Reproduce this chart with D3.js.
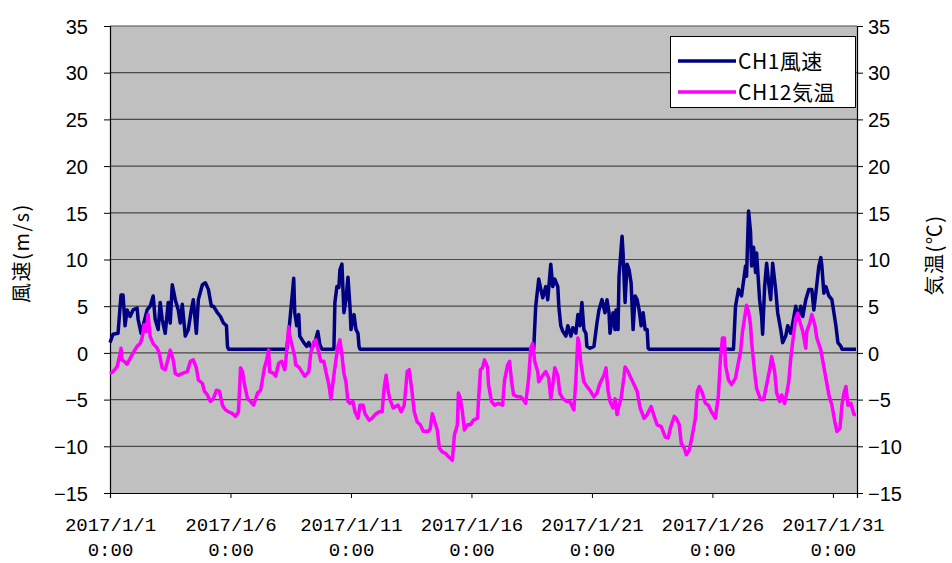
<!DOCTYPE html>
<html><head><meta charset="utf-8">
<script src="https://cdn.jsdelivr.net/npm/d3@7"></script>
<style>body{margin:0;background:#fff;} svg{display:block;}</style>
</head><body>
<svg id="chart" width="952" height="563"></svg>
<script>
// ---- data (hours from 2017/1/1 0:00, value) ----
const seriesNames = ["CH1風速", "CH12気温"];
const yTicks = [-15,-10,-5,0,5,10,15,20,25,30,35];
const xTickDays = [1,6,11,16,21,26,31];
const windData = [[0,1.1],[3,2.0],[8,2.1],[11,6.2],[13,6.2],[15,2.9],[17,4.6],[20,3.9],[23,4.6],[27,4.8],[28,3.6],[31,2.1],[33,2.9],[37,4.6],[40,5.0],[43,6.1],[45,3.6],[48,2.5],[50,5.4],[52,3.6],[55,2.1],[58,5.4],[60,3.2],[62,7.3],[65,5.7],[68,4.6],[70,3.2],[72,5.2],[75,1.8],[78,2.5],[81,4.6],[83,5.7],[86,2.1],[88,5.7],[92,7.3],[95,7.5],[98,6.8],[101,5.0],[103,5.0],[107,4.3],[110,3.9],[113,3.2],[116,2.9],[117,0.7],[118,0.4],
[176,0.4],[178,2.1],[183,8.0],[184,4.3],[186,2.9],[188,4.1],[189,1.8],[193,1.1],[196,0.7],[198,1.1],[201,0.5],[204,1.1],[207,2.3],[209,0.9],[211,0.4],[223,0.4],[224,5.4],[226,7.1],[228,7.0],[229,8.9],[231,9.5],[233,4.3],[235,5.7],[237,8.1],[239,5.0],[240,2.5],[243,4.1],[245,2.5],[247,2.1],[248,0.7],[249,0.4],
[422,0.4],[424,5.0],[427,7.9],[431,5.9],[434,7.1],[436,5.7],[439,9.5],[441,7.1],[443,7.9],[446,7.1],[447,5.0],[449,2.9],[451,2.3],[454,1.8],[456,2.9],[459,1.8],[461,2.7],[464,2.1],[466,4.1],[468,2.9],[470,5.4],[472,2.5],[474,2.1],[475,0.7],[478,0.5],[482,0.7],[485,3.2],[487,4.6],[490,5.7],[493,4.3],[495,5.7],[497,4.3],[498,2.1],[501,4.3],[503,2.5],[504,4.6],[506,2.5],[507,8.2],[510,12.5],[511,10.7],[513,5.4],[515,9.5],[517,8.9],[519,7.5],[521,2.5],[523,6.1],[525,5.7],[527,4.6],[529,2.9],[531,4.3],[533,2.5],[535,2.5],[536,0.5],[537,0.4],
[621,0.4],[623,5.0],[626,6.8],[629,6.1],[633,9.3],[634,8.2],[636,15.2],[638,12.9],[639,9.3],[641,11.3],[643,8.6],[644,10.7],[647,5.7],[649,3.9],[650,2.0],[652,7.1],[654,9.6],[656,7.5],[658,5.7],[660,9.6],[663,6.8],[665,4.3],[668,2.5],[670,1.1],[673,1.8],[675,2.9],[678,2.1],[680,3.2],[683,5.0],[685,3.6],[688,5.0],[690,3.9],[693,5.7],[696,6.8],[699,6.8],[701,4.6],[703,6.4],[706,9.3],[708,10.2],[709,9.3],[711,6.4],[713,7.1],[716,6.1],[719,5.7],[721,4.3],[723,2.9],[725,1.1],[728,0.7],[729,0.4],[743,0.4]];
const tempData = [[0,-2.2],[3,-2.0],[7,-1.5],[9,-0.6],[11,0.5],[12,-0.75],[14,-0.9],[17,-1.2],[20,-0.6],[23,0],[27,0.7],[30,1.0],[32,1.6],[34,3.0],[36,2.3],[38,4.1],[40,1.75],[43,1.0],[47,0.5],[49,0],[52,-1.6],[55,-1.8],[58,-0.6],[60,0.3],[63,-0.75],[65,-2.2],[68,-2.4],[72,-2.2],[77,-2.0],[80,-0.9],[83,-0.75],[86,-1.6],[88,-2.9],[92,-3.25],[94,-4.1],[97,-4.5],[100,-5.2],[103,-4.9],[106,-4.0],[109,-4.1],[112,-5.6],[115,-6.1],[118,-6.3],[122,-6.5],[125,-6.8],[128,-6.3],[130,-1.6],[132,-2.0],[134,-3.4],[137,-4.9],[140,-5.2],[143,-5.6],
[147,-4.3],[150,-4.0],[154,-1.5],[156,-0.75],[158,0.3],[159,-2.0],[163,-2.2],[165,-2.5],[168,-1.1],[171,-0.9],[174,-1.8],[175,-0.9],[178,2.8],[179,1.9],[182,0.5],[184,-0.4],[185,-1.3],[188,-1.5],[191,-2.0],[194,-2.5],[198,-2.0],[200,0],[203,1.2],[205,1.4],[208,0],[210,-0.9],[213,-0.9],[215,-2.0],[218,-3.4],[220,-4.9],[223,-2.4],[225,-0.75],[227,0.7],[229,1.4],[231,-0.2],[233,-2.2],[235,-3.1],[237,-5.2],[239,-5.4],[242,-5.2],[244,-6.3],[247,-7.0],[249,-5.6],[252,-5.6],[254,-6.5],[258,-7.2],[261,-7.0],[264,-6.6],[268,-6.3],[271,-6.3],[273,-3.8],[275,-2.4],[277,-4.1],[279,-5.0],[282,-5.9],[284,-5.75],[287,-5.6],[290,-6.3],[293,-5.6],[294,-4.5],[296,-2.0],[298,-1.8],[301,-4.3],[303,-6.3],[306,-7.4],[309,-7.7],[312,-8.4],[317,-8.4],[319,-8.1],[321,-6.5],[323,-7.2],[326,-8.25],[328,-10.2],[331,-10.6],[334,-10.75],[337,-11.1],[341,-11.5],[343,-8.8],[346,-7.7],[347,-4.3],[349,-4.9],[351,-6.3],[353,-8.25],[356,-7.7],[359,-7.7],[362,-7.2],[366,-7.0],[367,-5.2],[369,-1.8],[371,-1.6],[373,-0.75],[376,-1.5],[377,-3.4],[380,-5.2],[383,-5.6],[387,-5.4],[391,-5.6],[393,-2.9],[396,-1.3],[398,-0.9],[400,-3.1],[402,-4.5],[406,-4.7],[409,-4.7],[411,-4.9],[414,-5.4],[417,-2.7],[419,0.5],[421,1.0],[423,-0.9],[426,-2.0],[427,-3.1],[431,-2.4],[434,-2.0],[437,-2.7],[439,-4.9],[441,-3.4],[443,-1.6],[446,-2.4],[448,-4.3],[451,-4.9],[455,-5.2],[458,-5.2],[462,-6.1],[464,-2.9],[466,1.6],[467,1.2],[469,-1.1],[472,-3.1],[475,-3.6],[478,-4.0],[482,-4.7],[485,-4.3],[488,-3.25],[492,-2.4],[494,-1.6],[496,-4.0],[498,-5.2],[501,-5.9],[503,-4.9],[505,-6.6],[507,-5.6],[509,-4.9],[512,-2.5],[513,-1.5],[516,-2.0],[518,-2.5],[522,-3.4],[525,-4.1],[528,-5.9],[532,-7.0],[535,-6.6],[539,-5.75],[542,-6.8],[545,-7.7],[549,-7.9],[553,-9.0],[556,-9.1],[558,-8.1],[562,-6.8],[564,-7.0],[567,-7.7],[569,-9.7],[572,-10.2],[574,-10.9],[577,-10.4],[580,-8.8],[583,-7.0],[585,-4.1],[587,-3.6],[590,-4.3],[593,-5.4],[596,-5.6],[599,-6.3],[603,-7.0],[606,-4.5],[608,-0.6],[610,1.6],[612,1.6],[613,-1.3],[616,-2.9],[619,-3.4],[623,-2.7],[625,-1.5],[628,0.1],[630,2.3],[632,3.7],[634,5.1],[636,4.4],[638,3.0],[639,1.2],[642,-2.0],[644,-3.8],[648,-5.0],[651,-5.0],[654,-3.4],[657,-1.8],[659,-0.4],[662,-2.0],[664,-4.3],[667,-5.2],[669,-4.5],[672,-5.4],[674,-4.3],[676,-3.1],[678,-0.6],[680,1.2],[683,3.7],[685,4.25],[688,3.0],[690,2.3],[693,0.5],[694,2.3],[697,3.2],[699,4.1],[702,3.0],[704,1.6],[708,0.3],[710,-0.9],[713,-2.7],[716,-4.5],[719,-5.6],[722,-7.4],[724,-8.4],[727,-8.1],[729,-5.6],[731,-4.3],[733,-3.6],[735,-5.6],[738,-5.4],[741,-6.6],[743,-6.6]];

// ---- layout ----
const L = 110, R = 857, T = 26, B = 493;
const svg = d3.select("#chart");
const start = Date.UTC(2017,0,1);
const toDate = h => new Date(start + h*3600e3);
const x = d3.scaleUtc().domain([new Date(start), new Date(Date.UTC(2017,1,1))]).range([L, R]);
const y = d3.scaleLinear().domain([-15, 35]).range([B, T]);
const numFont = "'Liberation Sans', Arial, 'Noto Sans CJK JP', sans-serif";
const jpFont = "'Noto Sans CJK JP', 'Liberation Sans', sans-serif";

svg.append("rect").attr("x", L).attr("y", T).attr("width", R-L).attr("height", B-T).attr("fill", "#c0c0c0");

// gridlines
svg.append("g").selectAll("line").data(yTicks.filter(v => v > -15)).join("line")
  .attr("x1", L).attr("x2", R).attr("y1", d => y(d)).attr("y2", d => y(d))
  .attr("stroke", "#4a4a4a").attr("stroke-width", 1.2);

const fmt = v => (v < 0 ? "\u2212" + Math.abs(v) : String(v));
// left axis
const gl = svg.append("g").attr("transform", `translate(${L},0)`)
  .call(d3.axisLeft(y).tickValues(yTicks).tickFormat(fmt).tickSize(6).tickPadding(16));
// right axis
const gr = svg.append("g").attr("transform", `translate(${R},0)`)
  .call(d3.axisRight(y).tickValues(yTicks).tickFormat(fmt).tickSize(6).tickPadding(5));
[gl, gr].forEach(g => {
  g.selectAll("text").attr("font-family", numFont).attr("font-size", 20).attr("fill", "#000").attr("dy", "0.36em");
  g.selectAll("line").attr("stroke", "#000");
  g.select(".domain").attr("stroke", "#000").attr("stroke-width", 1.2);
});

// bottom axis
const xTickDates = xTickDays.map(d => new Date(Date.UTC(2017,0,d)));
const gb = svg.append("g").attr("transform", `translate(0,${B})`)
  .call(d3.axisBottom(x).tickValues(xTickDates).tickSize(5).tickFormat(""));
gb.selectAll("line").attr("stroke", "#000");
gb.select(".domain").attr("stroke", "#000").attr("stroke-width", 1.2);
gb.selectAll(".tick").each(function(d) {
  const t = d3.select(this).append("text").attr("fill", "#000").attr("text-anchor", "middle")
    .attr("font-family", "'Liberation Mono', 'DejaVu Sans Mono', monospace").attr("font-size", 19);
  t.append("tspan").attr("x", 0).attr("y", 38).text(`${d.getUTCFullYear()}/${d.getUTCMonth()+1}/${d.getUTCDate()}`);
  t.append("tspan").attr("x", 0).attr("y", 63).text("0:00");
});

// lines
const line = d3.line().x(d => x(toDate(d[0]))).y(d => y(d[1]));
svg.append("path").datum(windData).attr("d", line).attr("fill", "none")
  .attr("stroke", "#000080").attr("stroke-width", 3.5).attr("stroke-linejoin", "round");
svg.append("path").datum(tempData).attr("d", line).attr("fill", "none")
  .attr("stroke", "#ff00ff").attr("stroke-width", 3.5).attr("stroke-linejoin", "round");

// axis titles
svg.append("text").attr("transform", "translate(29,253) rotate(-90)").attr("text-anchor", "middle")
  .attr("font-family", jpFont).attr("font-size", 20).attr("letter-spacing", 1.5).text("風速(m/s)");
svg.append("text").attr("transform", "translate(942,255) rotate(-90)").attr("text-anchor", "middle")
  .attr("font-family", jpFont).attr("font-size", 20).attr("letter-spacing", 1.5).text("気温(℃)");

// legend
const colors = ["#000080", "#ff00ff"];
const lg = svg.append("g");
lg.append("rect").attr("x", 670.5).attr("y", 36.5).attr("width", 185).attr("height", 71)
  .attr("fill", "#fff").attr("stroke", "#000").attr("stroke-width", 1);
seriesNames.forEach((n, i) => {
  const yy = 61 + i*31;
  lg.append("line").attr("x1", 678).attr("x2", 736).attr("y1", yy).attr("y2", yy)
    .attr("stroke", colors[i]).attr("stroke-width", 3.5);
  lg.append("text").attr("x", 738).attr("y", yy).attr("dy", "0.36em")
    .attr("font-family", jpFont).attr("font-size", 21).attr("letter-spacing", 0.5).text(n);
});
</script>
</body></html>
